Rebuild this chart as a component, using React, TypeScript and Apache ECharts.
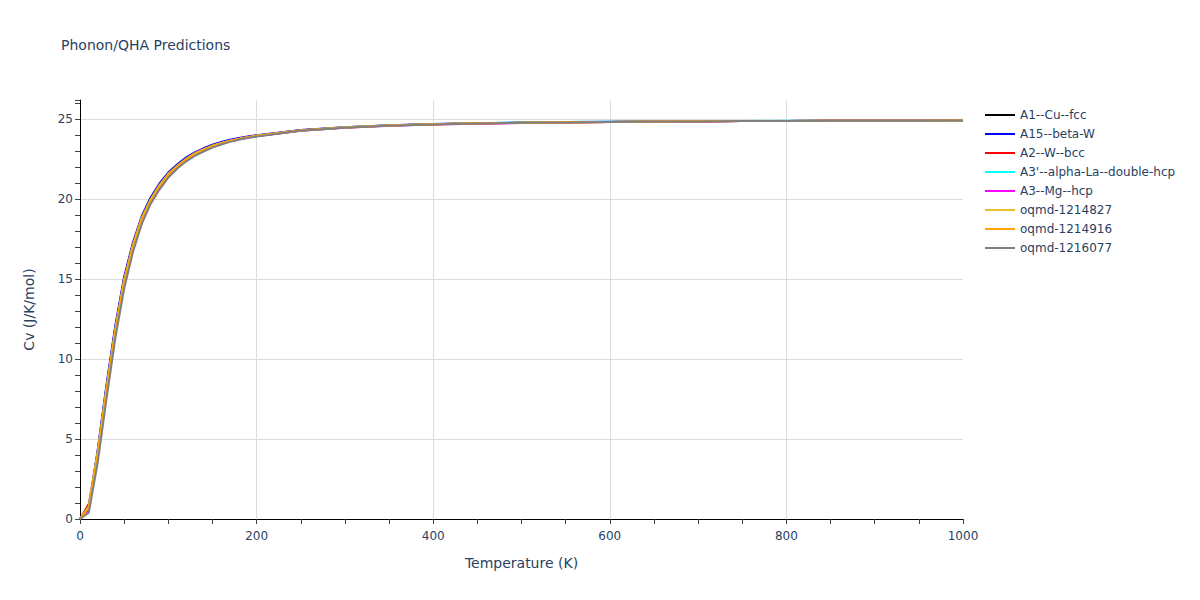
import React, { useEffect, useRef } from "react";
import * as echarts from "echarts";

const temps = [0, 10, 20, 30, 40, 50, 60, 70, 80, 90, 100, 110, 120, 130, 140, 150, 160, 170, 180, 190, 200, 250, 300, 350, 400, 450, 500, 550, 600, 650, 700, 750, 800, 850, 900, 950, 1000];

const seriesNames = [
  "A1--Cu--fcc",
  "A15--beta-W",
  "A2--W--bcc",
  "A3'--alpha-La--double-hcp",
  "A3--Mg--hcp",
  "oqmd-1214827",
  "oqmd-1214916",
  "oqmd-1216077",
];
const seriesColors = ["#000000", "#0000ff", "#ff0000", "#00ffff", "#ff00ff", "#e8bf2c", "#ffa500", "#808080"];

const cuFcc = [0, 0.7, 4.0, 8.0, 11.7, 14.8, 17.0, 18.75, 19.9, 20.8, 21.5, 22.02, 22.47, 22.82, 23.08, 23.31, 23.49, 23.64, 23.76, 23.86, 23.95, 24.29, 24.48, 24.6, 24.68, 24.74, 24.78, 24.81, 24.83, 24.85, 24.87, 24.88, 24.89, 24.9, 24.91, 24.91, 24.92];
const betaW = [0, 0.6, 4.3, 8.4, 12.1, 15.15, 17.3, 18.95, 20.1, 20.98, 21.66, 22.16, 22.6, 22.93, 23.18, 23.4, 23.57, 23.71, 23.82, 23.92, 24.0, 24.33, 24.5, 24.62, 24.7, 24.75, 24.79, 24.82, 24.84, 24.86, 24.87, 24.88, 24.89, 24.9, 24.91, 24.91, 24.92];
const wBcc = [0, 0.95, 4.2, 8.2, 11.9, 15.0, 17.2, 18.85, 20.0, 20.9, 21.6, 22.1, 22.52, 22.87, 23.12, 23.35, 23.52, 23.66, 23.78, 23.88, 23.97, 24.31, 24.49, 24.61, 24.69, 24.74, 24.78, 24.81, 24.83, 24.85, 24.87, 24.88, 24.89, 24.9, 24.91, 24.91, 24.92];
const laDhcp = [0, 0.8, 4.15, 8.15, 11.85, 14.95, 17.15, 18.82, 19.97, 20.87, 21.57, 22.07, 22.51, 22.86, 23.11, 23.34, 23.51, 23.65, 23.77, 23.87, 23.96, 24.3, 24.49, 24.61, 24.69, 24.75, 24.79, 24.82, 24.84, 24.86, 24.88, 24.89, 24.9, 24.9, 24.91, 24.91, 24.92];
const mgHcp = [0, 0.65, 3.9, 7.9, 11.6, 14.7, 16.95, 18.7, 19.85, 20.77, 21.48, 22.0, 22.45, 22.8, 23.06, 23.3, 23.48, 23.63, 23.75, 23.85, 23.94, 24.28, 24.47, 24.59, 24.67, 24.72, 24.76, 24.8, 24.82, 24.84, 24.86, 24.88, 24.89, 24.9, 24.9, 24.91, 24.92];
const oqmd1214827 = [0, 0.72, 4.05, 8.05, 11.75, 14.85, 17.05, 18.77, 19.92, 20.82, 21.52, 22.03, 22.48, 22.83, 23.09, 23.32, 23.5, 23.64, 23.76, 23.86, 23.95, 24.3, 24.48, 24.6, 24.68, 24.74, 24.78, 24.81, 24.83, 24.85, 24.87, 24.88, 24.89, 24.9, 24.91, 24.91, 24.92];
const oqmd1214916 = [0, 0.75, 4.1, 8.1, 11.8, 14.9, 17.1, 18.8, 19.95, 20.85, 21.55, 22.05, 22.5, 22.85, 23.1, 23.33, 23.5, 23.65, 23.77, 23.87, 23.96, 24.3, 24.48, 24.6, 24.68, 24.74, 24.78, 24.81, 24.83, 24.85, 24.87, 24.88, 24.89, 24.9, 24.91, 24.91, 24.92];
const oqmd1216077 = [0, 0.4, 3.5, 7.5, 11.3, 14.4, 16.7, 18.45, 19.7, 20.6, 21.35, 21.9, 22.35, 22.7, 22.98, 23.22, 23.42, 23.58, 23.71, 23.82, 23.91, 24.27, 24.46, 24.59, 24.67, 24.73, 24.77, 24.8, 24.83, 24.85, 24.86, 24.88, 24.89, 24.9, 24.9, 24.91, 24.92];

const seriesValues = [cuFcc, betaW, wBcc, laDhcp, mgHcp, oqmd1214827, oqmd1214916, oqmd1216077];

const FONT = "'DejaVu Sans', Verdana, sans-serif";
const TXT = "#2a3f5f";

export default function App() {
  const ref = useRef<HTMLDivElement>(null);
  useEffect(() => {
    if (!ref.current) return;
    const chart = echarts.init(ref.current, null, { renderer: "svg" });
    const yMin = 0;
    const yMax = 26.2;
    chart.setOption({
      animation: false,
      backgroundColor: "#ffffff",
      textStyle: { fontFamily: FONT },
      title: {
        text: "Phonon/QHA Predictions",
        left: 61,
        top: 38,
        padding: 0,
        textStyle: { fontFamily: FONT, fontSize: 14, fontWeight: "normal", color: TXT },
      },
      legend: {
        orient: "vertical",
        left: 985,
        top: 108,
        itemWidth: 30,
        itemHeight: 14,
        itemGap: 5,
        padding: 0,
        textStyle: { fontFamily: FONT, fontSize: 12, color: TXT, lineHeight: 14 },
        data: seriesNames.map((n) => ({ name: n, icon: "path://M0,6 L30,6 L30,8 L0,8 Z" })),
      },
      grid: { left: 80, right: 237, top: 100, bottom: 81, containLabel: false },
      xAxis: [
        {
          type: "value",
          min: 0,
          max: 1000,
          interval: 200,
          name: "Temperature (K)",
          nameLocation: "middle",
          nameGap: 37,
          nameTextStyle: { fontFamily: FONT, fontSize: 14, color: TXT },
          axisLine: { show: true, onZero: false, lineStyle: { color: "#000000", width: 1 } },
          axisTick: { show: true, length: 5, lineStyle: { color: "#444444" } },
          minorTick: { show: true, splitNumber: 4, length: 5, lineStyle: { color: "#444444" } },
          axisLabel: { fontFamily: FONT, fontSize: 12, color: TXT, margin: 11, formatter: (v: number) => String(v) },
          splitLine: { show: true, showMinLine: false, showMaxLine: false, lineStyle: { color: "#dcdcdc", width: 1 } },
        },
      ],
      yAxis: [
        {
          type: "value",
          min: yMin,
          max: yMax,
          interval: 5,
          name: "Cv (J/K/mol)",
          nameLocation: "middle",
          nameGap: 44,
          nameTextStyle: { fontFamily: FONT, fontSize: 14, color: TXT },
          axisLine: { show: true, onZero: false, lineStyle: { color: "#000000", width: 1 } },
          axisTick: { show: false },
          axisLabel: { fontFamily: FONT, fontSize: 12, color: TXT, margin: 7, showMaxLabel: false, formatter: (v: number) => String(v) },
          splitLine: { show: true, showMinLine: false, showMaxLine: false, lineStyle: { color: "#dcdcdc", width: 1 } },
        },
        {
          type: "value",
          position: "left",
          min: yMin,
          max: yMax,
          interval: 1,
          axisLine: { show: false },
          axisTick: { show: true, length: 5, lineStyle: { color: "#444444" } },
          axisLabel: { show: false },
          splitLine: { show: false },
        },
      ],
      series: seriesNames.map((name, i) => ({
        name,
        type: "line",
        xAxisIndex: 0,
        yAxisIndex: 0,
        symbol: "none",
        showSymbol: false,
        smooth: false,
        color: seriesColors[i],
        lineStyle: { color: seriesColors[i], width: 2 },
        data: temps.map((t, k) => [t, seriesValues[i][k]]),
      })),
    });
    return () => chart.dispose();
  }, []);
  return <div ref={ref} style={{ width: 1200, height: 600, position: "absolute", left: 0, top: 0 }} />;
}
